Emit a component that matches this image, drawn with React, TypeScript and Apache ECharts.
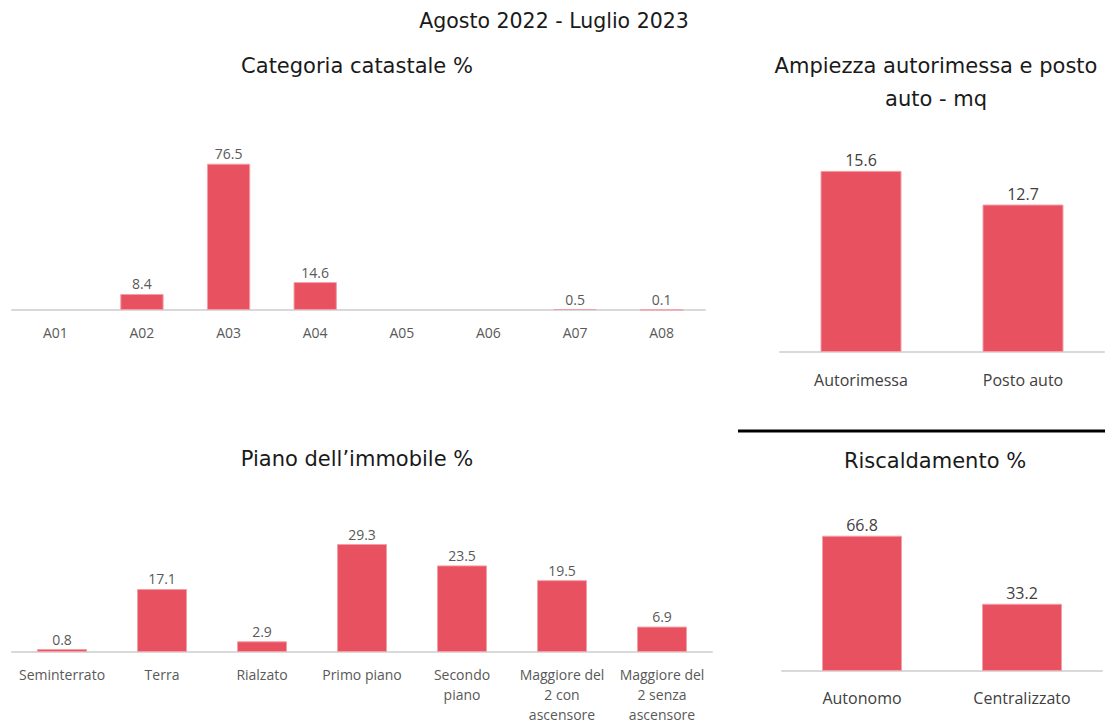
import React, { useEffect, useRef } from "react";
import * as echarts from "echarts";

const mainTitle = "Agosto 2022 - Luglio 2023";

const catTitle = "Categoria catastale %";
const catCategories = ["A01", "A02", "A03", "A04", "A05", "A06", "A07", "A08"];
const catValues: (number | null)[] = [null, 8.4, 76.5, 14.6, null, null, 0.5, 0.1];

const garageTitle = "Ampiezza autorimessa e posto\nauto - mq";
const garageCategories = ["Autorimessa", "Posto auto"];
const garageValues = [15.6, 12.7];

const floorTitle = "Piano dell’immobile %";
const floorCategories = [
  "Seminterrato",
  "Terra",
  "Rialzato",
  "Primo piano",
  "Secondo\npiano",
  "Maggiore del\n2 con\nascensore",
  "Maggiore del\n2 senza\nascensore",
];
const floorValues = [0.8, 17.1, 2.9, 29.3, 23.5, 19.5, 6.9];

const heatTitle = "Riscaldamento %";
const heatCategories = ["Autonomo", "Centralizzato"];
const heatValues = [66.8, 33.2];

const BAR = "#E8515F";
const AXIS = "#D9D9D9";
const TITLE_FONT = "'DejaVu Sans', sans-serif";
const LABEL_FONT = "'Open Sans', 'Noto Sans', sans-serif";

export default function App() {
  const ref = useRef<HTMLDivElement>(null);
  useEffect(() => {
    document.body.style.margin = "0";
    const chart = echarts.init(ref.current!, undefined, { renderer: "svg" });

    const grids = [
      { left: 12, width: 693, top: 157, height: 153 },
      { left: 780, width: 324, top: 143, height: 209 },
      { left: 12, width: 700, top: 523, height: 129 },
      { left: 782, width: 320, top: 509, height: 162 },
    ];
    const cats = [catCategories, garageCategories, floorCategories, heatCategories];
    const vals = [catValues, garageValues, floorValues, heatValues];
    const maxes = [80, 18, 35, 80];
    const fontSizes = [14, 16, 14, 16];
    const margins = [11, 17, 12, 16];
    const lineHeights = [22, 22, 20, 22];
    const labelColors = ["#595959", "#404040", "#595959", "#404040"];

    const titleStyle = (text: string, size: number) => ({
      text,
      fill: "#1a1a1a",
      font: `${size}px ${TITLE_FONT}`,
      align: "center",
      verticalAlign: "middle",
    });

    const option: any = {
      animation: false,
      backgroundColor: "#ffffff",
      grid: grids.map((g) => ({ ...g, containLabel: false, outerBoundsMode: "none" })),
      xAxis: cats.map((c, i) => ({
        type: "category",
        gridIndex: i,
        data: c,
        axisLine: { show: true, lineStyle: { color: AXIS, width: 2 } },
        axisTick: { show: false },
        axisLabel: {
          interval: 0,
          color: labelColors[i],
          fontSize: fontSizes[i],
          fontFamily: LABEL_FONT,
          margin: margins[i],
          lineHeight: lineHeights[i],
        },
      })),
      yAxis: cats.map((_, i) => ({
        type: "value",
        gridIndex: i,
        min: 0,
        max: maxes[i],
        show: false,
        splitLine: { show: false },
      })),
      series: vals.map((v, i) => ({
        type: "bar",
        xAxisIndex: i,
        yAxisIndex: i,
        data: v,
        barWidth: "50%",
        itemStyle: { color: BAR, borderColor: "#F2A0A8", borderWidth: 1 },
        label: {
          show: true,
          position: "top",
          distance: 3,
          color: labelColors[i],
          fontSize: fontSizes[i],
          fontFamily: LABEL_FONT,
          formatter: (p: any) => (p.value == null ? "" : Number(p.value).toFixed(1)),
        },
      })),
      graphic: [
        { type: "text", x: 554, y: 21, style: titleStyle(mainTitle, 20.5) },
        { type: "text", x: 357, y: 66, style: titleStyle(catTitle, 21) },
        {
          type: "text",
          x: 936,
          y: 82,
          style: { ...titleStyle(garageTitle, 21), lineHeight: 33 },
        },
        { type: "text", x: 357, y: 459, style: titleStyle(floorTitle, 21) },
        { type: "text", x: 935, y: 461, style: titleStyle(heatTitle, 21) },
        {
          type: "line",
          shape: { x1: 738, y1: 431, x2: 1105, y2: 431 },
          style: { stroke: "#000000", lineWidth: 3 },
        },
      ],
    };
    chart.setOption(option);
    return () => chart.dispose();
  }, []);
  return <div ref={ref} style={{ width: 1105, height: 724 }} />;
}
